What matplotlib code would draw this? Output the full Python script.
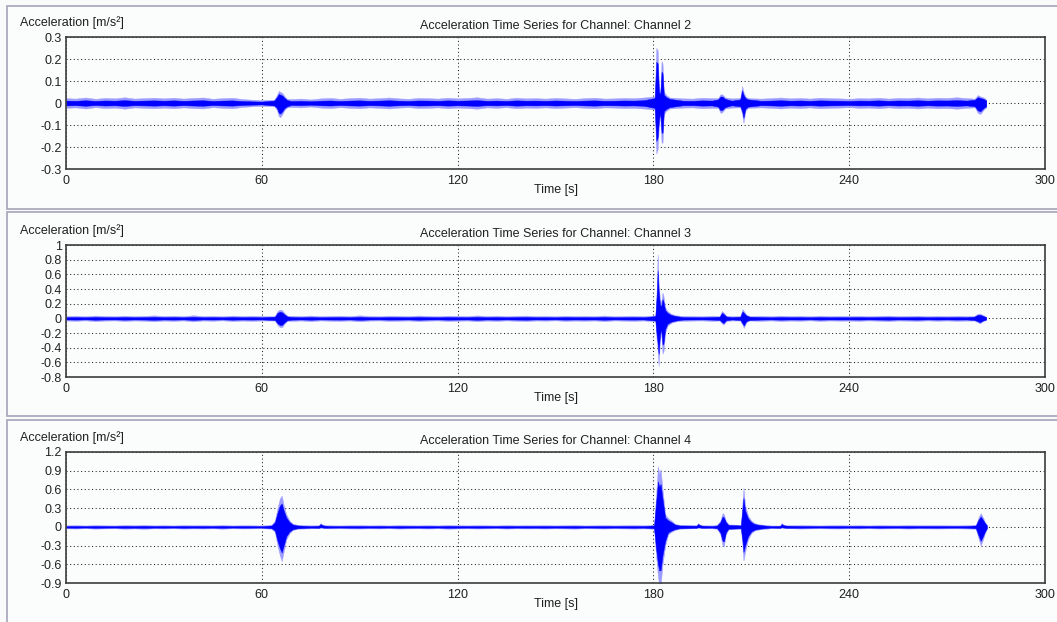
import numpy as np
import matplotlib.pyplot as plt
from matplotlib.patches import Rectangle
from matplotlib.ticker import FuncFormatter

plt.rcParams['font.family'] = ['Liberation Sans', 'DejaVu Sans']
plt.rcParams['font.size'] = 9

W, H = 1057, 622

channels = ['Channel 2', 'Channel 3', 'Channel 4']
x_ticks = [0, 60, 120, 180, 240, 300]
y_ticks = [
    [-0.3, -0.2, -0.1, 0, 0.1, 0.2, 0.3],
    [-0.8, -0.6, -0.4, -0.2, 0, 0.2, 0.4, 0.6, 0.8, 1],
    [-0.9, -0.6, -0.3, 0, 0.3, 0.6, 0.9, 1.2],
]

# baseline noise half-width (mm/s^2) every 3 s, 0..282 s
t_grid = np.arange(0, 283, 3)
base2 = [22, 20, 25, 19, 23, 21, 26, 20, 22, 24,
         21, 24, 20, 23, 25, 19, 22, 24, 18, 15,
         13, 15, 18, 18, 20, 16, 21, 23, 19, 22,
         24, 20, 22, 25, 21, 19, 23, 22, 20, 24,
         21, 23, 26, 20, 22, 19, 24, 21, 22, 20,
         23, 21, 19, 22, 24, 20, 21, 23, 22, 25,
         22, 24, 23, 21, 20, 24, 22, 23, 21, 22,
         24, 20, 22, 25, 21, 23, 20, 24, 22, 21,
         19, 22, 21, 24, 20, 23, 22, 25, 21, 24,
         23, 26, 22, 25, 20]
base3 = [30, 34, 28, 38, 31, 29, 36, 30, 33, 40,
         31, 35, 29, 42, 30, 33, 28, 37, 31, 34,
         30, 27, 32, 36, 30, 38, 29, 33, 35, 30,
         41, 31, 29, 35, 33, 30, 38, 32, 29, 36,
         33, 30, 40, 31, 35, 29, 34, 37, 30, 32,
         28, 35, 31, 33, 30, 38, 29, 32, 34, 30,
         33, 36, 30, 34, 31, 29, 35, 33, 30, 32,
         30, 34, 29, 36, 31, 33, 28, 35, 30, 32,
         31, 34, 29, 33, 37, 30, 32, 35, 29, 33,
         30, 34, 31, 33, 28]
base4 = [24, 27, 22, 29, 25, 23, 30, 26, 31, 24,
         26, 23, 28, 25, 27, 24, 30, 23, 26, 25,
         22, 24, 26, 25, 23, 24, 21, 25, 23, 26,
         27, 24, 26, 23, 28, 25, 24, 27, 23, 30,
         26, 24, 27, 25, 23, 28, 24, 26, 25, 27,
         24, 26, 29, 23, 25, 27, 24, 26, 28, 25,
         26, 24, 27, 25, 23, 26, 24, 25, 27, 24,
         25, 27, 23, 26, 24, 28, 25, 23, 26, 27,
         24, 26, 23, 27, 25, 24, 28, 25, 26, 27,
         25, 24, 27, 26, 24]

# event envelopes: time [s], upper and lower peak [m/s^2]
ev2_t = [63.8, 64.6, 65.2, 65.7, 66.3, 67.0, 67.8,
         180.4, 180.9, 181.3, 181.7, 182.1, 182.5, 182.8, 183.2, 184.0, 185.0,
         199.8, 200.6, 201.2, 202.0,
         206.6, 207.2, 207.6, 208.2, 209.0,
         278.5, 279.4, 280.2, 281.2, 282.0]
ev2_hi = [0.015, 0.035, 0.055, 0.05, 0.045, 0.03, 0.018,
          0.03, 0.25, 0.24, 0.07, 0.05, 0.19, 0.18, 0.05, 0.035, 0.025,
          0.022, 0.04, 0.038, 0.025,
          0.022, 0.077, 0.05, 0.03, 0.022,
          0.02, 0.036, 0.03, 0.025, 0.015]
ev2_lo = [-0.015, -0.03, -0.06, -0.064, -0.05, -0.03, -0.02,
          -0.03, -0.23, -0.21, -0.1, -0.06, -0.18, -0.18, -0.05, -0.035, -0.025,
          -0.022, -0.045, -0.04, -0.025,
          -0.02, -0.05, -0.09, -0.035, -0.022,
          -0.02, -0.045, -0.05, -0.03, -0.02]

ev3_t = [64.0, 64.8, 65.5, 66.2, 67.0, 67.8,
         180.6, 181.0, 181.3, 181.6, 182.0, 182.4, 182.8, 183.1, 183.6, 184.3, 185.5, 187.0,
         200.3, 201.0, 201.5, 202.3,
         206.6, 207.3, 207.7, 208.5, 209.5,
         278.3, 279.3, 280.0, 281.0, 282.0]
ev3_hi = [0.03, 0.1, 0.12, 0.11, 0.07, 0.035,
          0.04, 0.4, 0.87, 0.5, 0.25, 0.22, 0.35, 0.3, 0.15, 0.1, 0.06, 0.04,
          0.03, 0.1, 0.08, 0.035,
          0.03, 0.125, 0.1, 0.05, 0.03,
          0.03, 0.06, 0.065, 0.045, 0.02]
ev3_lo = [-0.03, -0.09, -0.12, -0.12, -0.07, -0.035,
          -0.04, -0.3, -0.45, -0.65, -0.3, -0.2, -0.48, -0.45, -0.2, -0.1, -0.06, -0.04,
          -0.03, -0.07, -0.085, -0.035,
          -0.03, -0.09, -0.13, -0.05, -0.03,
          -0.03, -0.05, -0.07, -0.04, -0.02]

ev4_t = [63.0, 64.0, 64.8, 65.5, 66.1, 66.7, 67.5, 68.5, 69.5, 71.0,
         77.5, 78.0, 78.6, 79.5,
         180.2, 180.8, 181.4, 181.8, 182.2, 182.8, 183.6, 184.5, 185.5, 186.6, 188.0,
         193.2, 193.7, 194.3, 195.0,
         199.5, 200.5, 201.2, 201.6, 202.2, 203.0,
         206.8, 207.3, 207.6, 208.1, 209.0, 210.0, 211.0, 212.5,
         218.8, 219.3, 219.9, 220.8,
         278.8, 279.6, 280.3, 281.0, 281.6, 282.2]
ev4_hi = [0.03, 0.1, 0.3, 0.45, 0.5, 0.35, 0.2, 0.1, 0.05, 0.03,
          0.025, 0.06, 0.035, 0.025,
          0.03, 0.5, 0.97, 0.85, 0.92, 0.6, 0.2, 0.14, 0.1, 0.05, 0.03,
          0.025, 0.06, 0.035, 0.025,
          0.03, 0.1, 0.22, 0.2, 0.1, 0.04,
          0.03, 0.4, 0.62, 0.35, 0.18, 0.1, 0.06, 0.04,
          0.02, 0.06, 0.035, 0.025,
          0.03, 0.15, 0.22, 0.15, 0.08, 0.03]
ev4_lo = [-0.03, -0.08, -0.3, -0.45, -0.55, -0.4, -0.2, -0.1, -0.05, -0.03,
          -0.02, -0.01, -0.015, -0.02,
          -0.03, -0.45, -0.8, -0.93, -0.93, -0.6, -0.3, -0.12, -0.08, -0.05, -0.03,
          -0.02, -0.01, -0.015, -0.02,
          -0.03, -0.12, -0.3, -0.31, -0.12, -0.04,
          -0.03, -0.3, -0.54, -0.4, -0.2, -0.1, -0.06, -0.04,
          -0.02, -0.01, -0.015, -0.02,
          -0.03, -0.18, -0.3, -0.2, -0.1, -0.03]

series = [(base2, ev2_t, ev2_hi, ev2_lo),
          (base3, ev3_t, ev3_hi, ev3_lo),
          (base4, ev4_t, ev4_hi, ev4_lo)]

# share of the envelope drawn as the dense (solid) part of the trace
CORE_BASE = 0.5
CORE_EVENT = 0.75


def envelope(base, ev_t, ev_hi, ev_lo):
    base = np.asarray(base) / 1000.0
    ev_t = np.asarray(ev_t)
    keep = np.abs(t_grid[:, None] - ev_t[None, :]).min(axis=1) > 1.2
    t = np.concatenate([t_grid[keep], ev_t])
    hi = np.concatenate([base[keep], ev_hi])
    lo = np.concatenate([-base[keep], ev_lo])
    core = np.concatenate([np.full(keep.sum(), CORE_BASE), np.full(len(ev_t), CORE_EVENT)])
    order = np.argsort(t)
    return t[order], hi[order], lo[order], core[order]


# panel layout in pixels
ax_top = [37, 245, 452]
ax_bot = [169, 377, 583]
box_top = [6, 212, 420]
box_bot = [209, 416, 640]
ax_left, ax_right = 66, 1045

fig = plt.figure(figsize=(W / 100, H / 100), dpi=100, facecolor='#f9fafa')
fmt = FuncFormatter(lambda v, p: '%g' % v)

for i, ch in enumerate(channels):
    fig.add_artist(Rectangle((7 / W, 1 - box_bot[i] / H), 1.1, (box_bot[i] - box_top[i]) / H,
                             transform=fig.transFigure, fc='#fbfcfc', ec='#a4a4ba',
                             lw=1.2, zorder=-1))
    ax = fig.add_axes([ax_left / W, 1 - ax_bot[i] / H, (ax_right - ax_left) / W,
                       (ax_bot[i] - ax_top[i]) / H])
    ax.set_facecolor('#fbfcfc')

    t, hi, lo, core = envelope(*series[i])
    ax.fill_between(t, lo, hi, color='#9c9cff', lw=0.3)
    ax.fill_between(t, lo * core, hi * core, color='#0000ff', lw=0.3)

    ax.set_xlim(0, 300)
    ax.set_ylim(y_ticks[i][0], y_ticks[i][-1])
    ax.set_xticks(x_ticks)
    ax.set_yticks(y_ticks[i])
    ax.yaxis.set_major_formatter(fmt)
    ax.grid(True, color='#222222', lw=0.75, linestyle=(0, (1, 2.5)))
    ax.set_axisbelow(True)
    ax.tick_params(length=0, labelsize=9, colors='#202020')
    ax.tick_params(axis='x', pad=4)
    ax.tick_params(axis='y', pad=3)
    for s in ax.spines.values():
        s.set_color('#3c3c3c')
        s.set_linewidth(1.2)

    ax.set_title('Acceleration Time Series for Channel: ' + ch, fontsize=9,
                 color='#202020', pad=6)
    ax.set_xlabel('Time [s]', fontsize=9, color='#202020', labelpad=-2)
    fig.text(20 / W, 1 - (ax_top[i] - 14) / H, 'Acceleration [m/s²]', fontsize=9,
             color='#202020', va='center', ha='left')

fig.savefig('out.png', dpi=100, facecolor=fig.get_facecolor())
